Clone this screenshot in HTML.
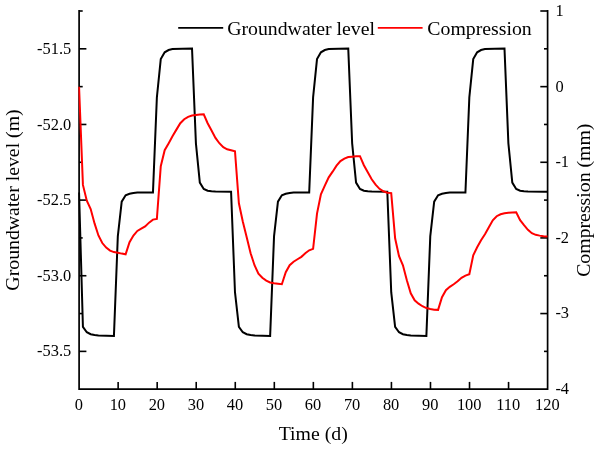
<!DOCTYPE html>
<html lang="en"><head><meta charset="utf-8"><title>Groundwater level and compression</title>
<style>html,body{margin:0;padding:0;background:#fff}body{width:600px;height:449px;overflow:hidden}</style></head>
<body>
<svg width="600" height="449" viewBox="0 0 600 449" style="display:block">
<rect width="600" height="449" fill="#fff"/>
<g stroke="#000" stroke-width="1.7" fill="none" stroke-linecap="butt">
<path d="M79.10 10.00 V389.20 H547.60 V10.00"/>
</g>
<g stroke="#000" stroke-width="1.6">
<line x1="118.14" x2="118.14" y1="389.20" y2="381.90"/>
<line x1="157.18" x2="157.18" y1="389.20" y2="381.90"/>
<line x1="196.22" x2="196.22" y1="389.20" y2="381.90"/>
<line x1="235.27" x2="235.27" y1="389.20" y2="381.90"/>
<line x1="274.31" x2="274.31" y1="389.20" y2="381.90"/>
<line x1="313.35" x2="313.35" y1="389.20" y2="381.90"/>
<line x1="352.39" x2="352.39" y1="389.20" y2="381.90"/>
<line x1="391.43" x2="391.43" y1="389.20" y2="381.90"/>
<line x1="430.48" x2="430.48" y1="389.20" y2="381.90"/>
<line x1="469.52" x2="469.52" y1="389.20" y2="381.90"/>
<line x1="508.56" x2="508.56" y1="389.20" y2="381.90"/>
<line x1="79.10" x2="86.40" y1="351.38" y2="351.38"/>
<line x1="79.10" x2="82.70" y1="313.56" y2="313.56"/>
<line x1="79.10" x2="86.40" y1="275.74" y2="275.74"/>
<line x1="79.10" x2="82.70" y1="237.92" y2="237.92"/>
<line x1="79.10" x2="86.40" y1="200.10" y2="200.10"/>
<line x1="79.10" x2="82.70" y1="162.28" y2="162.28"/>
<line x1="79.10" x2="86.40" y1="124.46" y2="124.46"/>
<line x1="79.10" x2="82.70" y1="86.64" y2="86.64"/>
<line x1="79.10" x2="86.40" y1="48.82" y2="48.82"/>
<line x1="79.10" x2="82.70" y1="11.00" y2="11.00"/>
<line x1="547.60" x2="544.00" y1="351.38" y2="351.38"/>
<line x1="547.60" x2="540.30" y1="313.56" y2="313.56"/>
<line x1="547.60" x2="544.00" y1="275.74" y2="275.74"/>
<line x1="547.60" x2="540.30" y1="237.92" y2="237.92"/>
<line x1="547.60" x2="544.00" y1="200.10" y2="200.10"/>
<line x1="547.60" x2="540.30" y1="162.28" y2="162.28"/>
<line x1="547.60" x2="544.00" y1="124.46" y2="124.46"/>
<line x1="547.60" x2="540.30" y1="86.64" y2="86.64"/>
<line x1="547.60" x2="544.00" y1="48.82" y2="48.82"/>
<line x1="547.60" x2="540.30" y1="11.00" y2="11.00"/>
</g>
<clipPath id="plotclip"><rect x="78.25" y="0" width="470.20" height="449"/></clipPath>
<g fill="none" stroke-linejoin="miter" stroke-linecap="butt" clip-path="url(#plotclip)">
<path d="M79.05 192.55 L82.93 326.94 L86.80 332.23 L90.68 334.19 L94.55 334.94 L98.43 335.40 L113.93 336.00 L117.81 236.34 L121.71 201.61 L125.62 195.27 L129.53 193.76 L133.43 193.00 L137.34 192.55 L152.96 192.55 L156.87 97.42 L160.77 59.07 L164.68 52.27 L168.58 50.01 L172.49 49.10 L192.02 48.50 L195.92 143.32 L199.83 182.58 L203.74 188.93 L207.64 190.74 L211.55 191.19 L215.45 191.49 L231.08 191.64 L234.98 292.21 L238.89 326.94 L242.79 332.23 L246.70 334.19 L250.61 334.94 L254.51 335.40 L270.14 336.00 L274.04 236.34 L277.95 201.61 L281.85 195.27 L285.76 193.76 L289.66 193.00 L293.57 192.55 L309.19 192.55 L313.10 97.42 L317.01 59.07 L320.91 52.27 L324.82 50.01 L328.72 49.10 L348.25 48.50 L352.16 143.32 L356.06 182.58 L359.97 188.93 L363.88 190.74 L367.78 191.19 L371.69 191.49 L387.31 191.64 L391.22 292.21 L395.12 326.94 L399.03 332.23 L402.93 334.19 L406.84 334.94 L410.75 335.40 L426.37 336.00 L430.27 236.34 L434.18 201.61 L438.09 195.27 L441.99 193.76 L445.90 193.00 L449.80 192.55 L465.43 192.55 L469.33 97.42 L473.24 59.07 L477.15 52.27 L481.05 50.01 L484.96 49.10 L504.49 48.50 L508.39 143.32 L512.30 182.58 L516.20 188.93 L520.11 190.74 L524.02 191.19 L527.92 191.49 L543.54 191.64 L547.45 191.64" stroke="#000" stroke-width="2"/>
<path d="M79.05 86.75 L82.93 184.90 L86.80 200.75 L90.68 209.06 L94.55 223.41 L98.43 235.48 L102.30 243.04 L106.18 247.56 L110.06 250.59 L113.93 252.09 L117.81 252.85 L121.71 253.61 L125.62 254.28 L129.53 242.28 L133.43 235.48 L137.34 230.96 L141.24 228.69 L145.15 226.43 L149.05 222.65 L152.96 219.63 L156.87 218.87 L160.77 166.25 L164.68 150.17 L168.58 143.38 L172.49 136.28 L176.40 129.63 L180.30 123.22 L184.21 119.22 L188.11 116.80 L192.02 115.52 L195.92 114.91 L199.83 114.46 L203.74 114.23 L207.64 123.22 L211.55 130.54 L215.45 137.86 L219.36 143.22 L223.27 147.15 L227.17 149.26 L231.08 150.17 L234.98 151.23 L238.89 203.25 L242.79 221.52 L246.70 237.22 L250.61 253.23 L254.51 265.23 L258.42 273.61 L262.32 277.76 L266.23 280.63 L270.14 282.45 L274.04 283.28 L277.95 283.81 L281.85 284.26 L285.76 272.25 L289.66 265.23 L293.57 261.68 L297.48 259.27 L301.38 256.85 L305.29 253.23 L309.19 250.28 L313.10 248.85 L317.01 213.59 L320.91 194.34 L324.82 185.66 L328.72 177.35 L332.63 171.69 L336.53 165.65 L340.44 161.12 L344.35 158.63 L348.25 157.04 L352.16 156.66 L356.06 156.36 L359.97 156.21 L363.88 165.27 L367.78 172.22 L371.69 179.24 L375.59 184.67 L379.50 188.83 L383.40 191.24 L387.31 192.68 L391.22 193.05 L395.12 238.28 L399.03 256.25 L402.93 265.23 L406.84 280.26 L410.75 293.24 L414.65 300.26 L418.56 303.66 L422.46 306.23 L426.37 308.04 L430.27 309.02 L434.18 309.63 L438.09 309.85 L441.99 297.24 L445.90 290.22 L449.80 286.82 L453.71 284.26 L457.62 281.24 L461.52 277.84 L465.43 275.65 L469.33 274.22 L473.24 255.27 L477.15 247.26 L481.05 240.24 L484.96 234.28 L488.86 227.26 L492.77 220.23 L496.67 216.23 L500.58 214.27 L504.49 213.21 L508.39 212.68 L512.30 212.46 L516.20 212.23 L520.11 220.23 L524.02 225.22 L527.92 229.82 L531.83 233.22 L535.73 234.81 L539.64 235.64 L543.54 236.24 L547.45 236.62" stroke="#f00" stroke-width="2"/>
</g>
<g font-family="'Liberation Serif', serif" fill="#000">
<g font-size="16.4px">
<text x="78.80" y="410" text-anchor="middle">0</text>
<text x="117.84" y="410" text-anchor="middle">10</text>
<text x="156.88" y="410" text-anchor="middle">20</text>
<text x="195.92" y="410" text-anchor="middle">30</text>
<text x="234.97" y="410" text-anchor="middle">40</text>
<text x="274.01" y="410" text-anchor="middle">50</text>
<text x="313.05" y="410" text-anchor="middle">60</text>
<text x="352.09" y="410" text-anchor="middle">70</text>
<text x="391.13" y="410" text-anchor="middle">80</text>
<text x="430.18" y="410" text-anchor="middle">90</text>
<text x="469.22" y="410" text-anchor="middle">100</text>
<text x="508.26" y="410" text-anchor="middle">110</text>
<text x="547.30" y="410" text-anchor="middle">120</text>
<text x="71.2" y="54" text-anchor="end">-51.5</text>
<text x="71.2" y="130" text-anchor="end">-52.0</text>
<text x="71.2" y="205" text-anchor="end">-52.5</text>
<text x="71.2" y="281" text-anchor="end">-53.0</text>
<text x="71.2" y="356" text-anchor="end">-53.5</text>
<text x="555.4" y="16">1</text>
<text x="555.4" y="92">0</text>
<text x="555.4" y="167">-1</text>
<text x="555.4" y="243">-2</text>
<text x="555.4" y="318">-3</text>
<text x="555.4" y="394">-4</text>
</g>
<g font-size="19.8px">
<text x="313.2" y="439.9" text-anchor="middle">Time (d)</text>
<text transform="translate(18.5 200) rotate(-90)" text-anchor="middle">Groundwater level (m)</text>
<text transform="translate(590.2 200.2) rotate(-90)" text-anchor="middle">Compression (mm)</text>
<text x="227.2" y="34.5">Groundwater level</text>
<text x="427.3" y="34.5">Compression</text>
</g>
</g>
<line x1="178.2" x2="223.2" y1="27.8" y2="27.8" stroke="#000" stroke-width="1.8"/>
<line x1="377.8" x2="422.6" y1="27.8" y2="27.8" stroke="#f00" stroke-width="1.8"/>
</svg>
</body></html>
